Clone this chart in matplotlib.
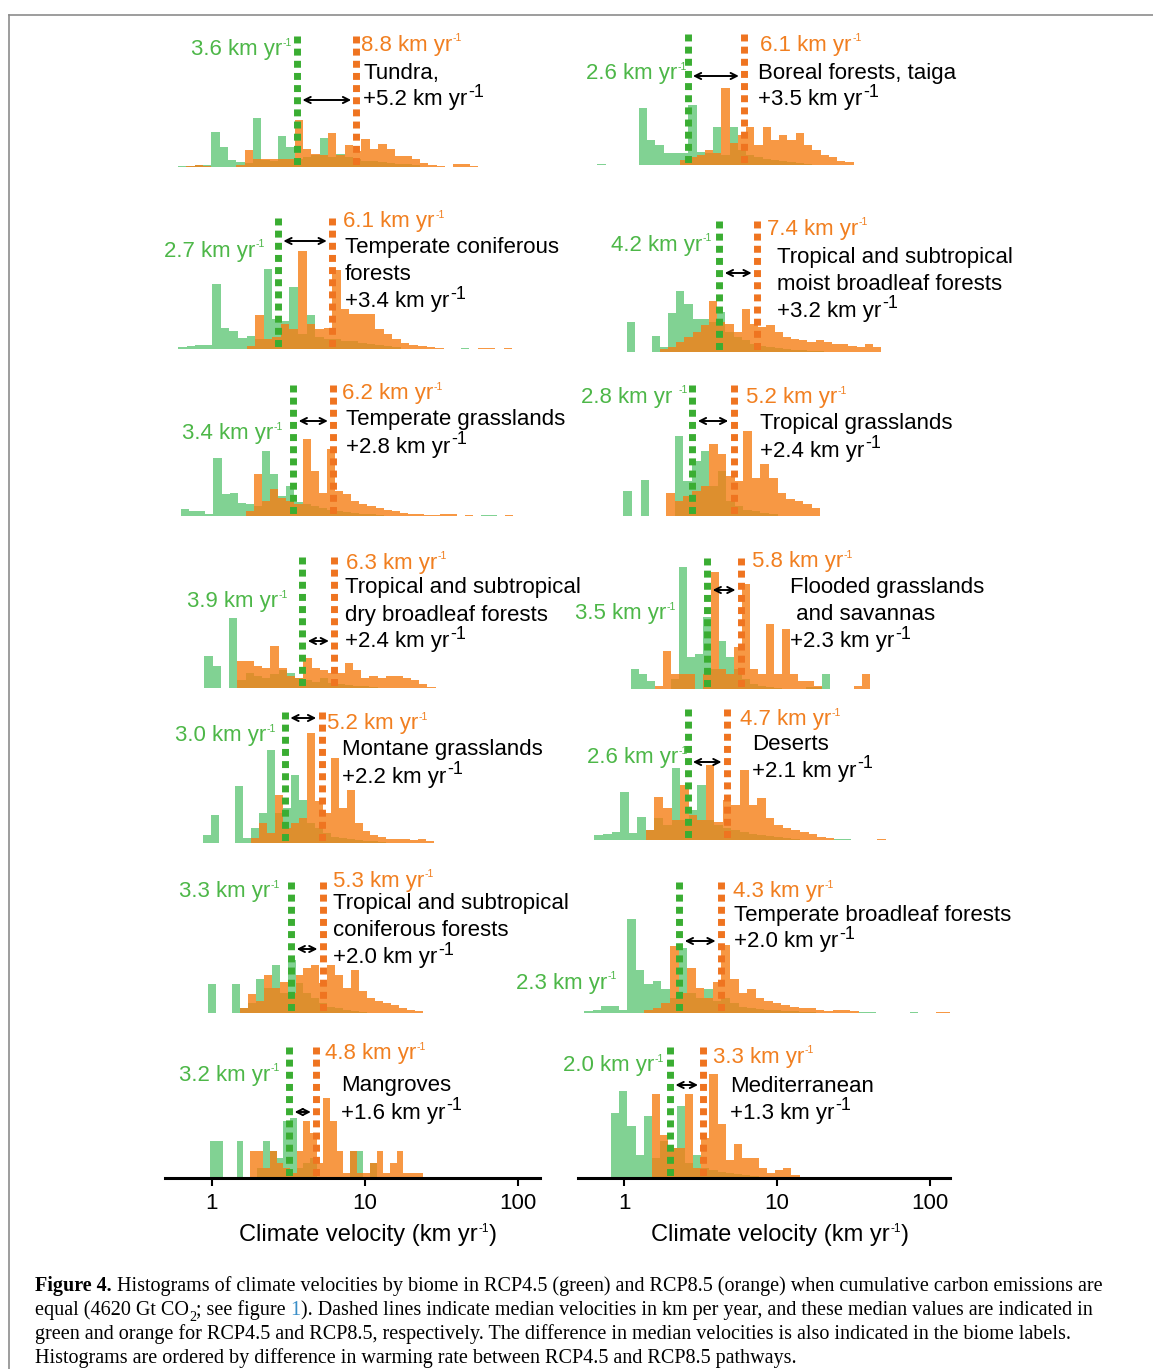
import numpy as np
import matplotlib.pyplot as plt
from matplotlib.ticker import NullLocator

plt.rcParams['font.family'] = ['Liberation Sans', 'DejaVu Sans']

W, H = 1153, 1369

# biomes: left column top to bottom, then right column top to bottom
NAMES = [
    ["Tundra,"],
    ["Temperate coniferous", "forests"],
    ["Temperate grasslands"],
    ["Tropical and subtropical", "dry broadleaf forests"],
    ["Montane grasslands"],
    ["Tropical and subtropical", "coniferous forests"],
    ["Mangroves"],
    ["Boreal forests, taiga"],
    ["Tropical and subtropical", "moist broadleaf forests"],
    ["Tropical grasslands"],
    ["Flooded grasslands", " and savannas"],
    ["Deserts"],
    ["Temperate broadleaf forests"],
    ["Mediterranean"],
]
MEDIAN_45 = [3.6, 2.7, 3.4, 3.9, 3.0, 3.3, 3.2, 2.6, 4.2, 2.8, 3.5, 2.6, 2.3, 2.0]
MEDIAN_85 = [8.8, 6.1, 6.2, 6.3, 5.2, 5.3, 4.8, 6.1, 7.4, 5.2, 5.8, 4.7, 4.3, 3.3]

# histogram bins: first edge (km/yr) and log10 width of each bin
BIN_START = [0.60, 0.60, 0.627, 0.89, 0.879, 0.942, 0.97,
             0.67, 1.046, 0.99, 1.11, 0.64, 0.55, 0.822]
BIN_DEX = [0.0545, 0.056, 0.053, 0.054, 0.052, 0.052, 0.0436,
           0.054, 0.0536, 0.056, 0.052, 0.056, 0.056, 0.0536]

TUNDRA_45 = [1, 1, 2, 2, 35, 20, 7, 5, 4, 49, 7, 6, 31, 20, 8, 10, 12, 29, 10, 13, 10, 8, 6, 6, 5, 4, 3, 3, 2]
TUNDRA_85 = [0, 1, 2, 1, 0, 0, 0, 2, 17, 8, 8, 8, 8, 8, 47, 18, 13, 12, 34, 12, 22, 16, 28, 18, 23, 18, 11, 11,
             8, 4, 2, 1, 0, 3, 3, 1]
TEMP_CONIF_45 = [2, 3, 4, 4, 65, 21, 18, 11, 13, 10, 80, 30, 28, 62, 15, 34, 12, 10, 10, 8, 8, 6, 5, 4, 3, 2,
                 0, 0, 0, 0, 0, 0, 0, 1]
TEMP_CONIF_85 = [0, 0, 0, 0, 0, 0, 0, 0, 3, 34, 10, 12, 25, 20, 98, 25, 20, 21, 79, 40, 35, 35, 35, 20, 15, 10,
                 6, 4, 3, 2, 1, 0, 0, 0, 0, 1, 1, 0, 1]
TEMP_GRASS_45 = [7, 5, 5, 2, 58, 22, 23, 13, 12, 10, 65, 42, 20, 30, 14, 12, 10, 8, 6, 5, 4, 3, 2, 2, 1,
                 0, 0, 0, 0, 0, 0, 0, 0, 0, 0, 0, 0, 1, 1]
TEMP_GRASS_85 = [0, 0, 0, 0, 0, 0, 0, 0, 5, 42, 15, 27, 18, 15, 12, 77, 45, 23, 67, 25, 22, 15, 12, 10, 8, 6,
                 5, 3, 2, 2, 1, 1, 2, 2, 0, 1, 0, 0, 0, 0, 1]
TROP_DRY_45 = [32, 22, 0, 70, 8, 15, 12, 10, 14, 18, 15, 10, 8, 6, 10, 5, 4, 3, 2, 2, 1]
TROP_DRY_85 = [0, 0, 0, 0, 27, 27, 22, 20, 42, 20, 12, 10, 30, 20, 18, 15, 15, 25, 18, 10, 12, 10, 12, 12,
               10, 8, 4, 1]
MONTANE_45 = [8, 28, 0, 0, 57, 5, 15, 30, 93, 30, 35, 68, 43, 20, 15, 10, 6, 5, 4, 3, 2, 2, 1]
MONTANE_85 = [0, 0, 0, 0, 0, 0, 5, 20, 10, 48, 15, 20, 25, 110, 42, 30, 85, 35, 53, 20, 12, 8, 6, 4, 4, 4,
              3, 4, 2]
TROP_CONIF_45 = [29, 0, 0, 29, 5, 10, 34, 25, 48, 20, 53, 30, 20, 15, 10, 6, 5, 3, 2, 1]
TROP_CONIF_85 = [0, 0, 0, 0, 5, 19, 12, 38, 25, 31, 20, 38, 45, 48, 30, 48, 38, 25, 43, 22, 15, 12, 10, 8, 5,
                 3, 2]
MANGROVE_45 = [37, 37, 0, 0, 37, 0, 0, 10, 37, 27, 20, 57, 60, 10, 15, 20, 0, 0, 0, 0, 0, 27, 27, 0, 15]
MANGROVE_85 = [0, 0, 0, 0, 0, 0, 27, 27, 10, 27, 15, 10, 5, 27, 57, 45, 15, 80, 57, 27, 5, 27, 5, 5, 15, 27,
               5, 15, 27, 5, 5, 5]
BOREAL_45 = [1, 0, 0, 0, 0, 57, 25, 20, 12, 12, 12, 60, 13, 12, 38, 10, 38, 15, 10, 8, 6, 5, 4, 3, 2, 1]
BOREAL_85 = [0, 0, 0, 0, 0, 0, 0, 0, 0, 0, 5, 8, 10, 15, 12, 77, 22, 30, 38, 20, 38, 25, 30, 25, 32, 20, 15,
             10, 8, 4, 3]
TROP_MOIST_45 = [30, 0, 0, 16, 5, 39, 61, 48, 33, 33, 30, 40, 20, 15, 12, 8, 6, 5, 4, 3, 2, 2, 1, 1]
TROP_MOIST_85 = [0, 0, 0, 0, 3, 5, 10, 15, 20, 27, 51, 30, 28, 20, 43, 28, 25, 27, 20, 15, 13, 12, 10, 12, 10,
                 8, 8, 6, 5, 8, 5]
TROP_GRASS_45 = [25, 0, 36, 0, 0, 0, 80, 35, 55, 65, 30, 45, 15, 10, 6, 5, 3, 2]
TROP_GRASS_85 = [0, 0, 0, 0, 0, 23, 15, 20, 25, 30, 72, 62, 40, 35, 85, 38, 52, 38, 23, 17, 15, 12, 8]
FLOODED_45 = [20, 15, 8, 0, 0, 10, 122, 32, 35, 72, 20, 48, 32, 20, 10, 5, 3, 2, 1, 0, 0, 0, 2, 2, 15]
FLOODED_85 = [0, 0, 0, 3, 38, 15, 15, 15, 0, 15, 117, 20, 15, 42, 105, 20, 15, 65, 15, 60, 15, 8, 8, 3,
              0, 0, 0, 0, 3, 15]
DESERTS_45 = [5, 6, 8, 48, 7, 23, 10, 22, 15, 72, 20, 30, 55, 20, 15, 12, 10, 8, 6, 5, 4, 3, 2, 1,
              0, 0, 0, 0, 1, 1]
DESERTS_85 = [0, 0, 0, 0, 0, 0, 10, 43, 32, 20, 55, 25, 20, 75, 18, 40, 35, 70, 35, 42, 22, 15, 12, 10, 8, 6,
              3, 2, 0, 0, 0, 0, 0, 1]
TEMP_BROAD_45 = [2, 3, 7, 7, 3, 94, 43, 29, 32, 24, 15, 65, 20, 15, 24, 12, 15, 10, 6, 5, 4, 3, 3, 2, 2, 1, 1,
                 0, 0, 0, 0, 0, 1, 1, 0, 0, 0, 0, 1]
TEMP_BROAD_85 = [0, 0, 0, 0, 0, 0, 0, 3, 5, 10, 67, 20, 45, 25, 15, 31, 68, 34, 20, 24, 15, 12, 10, 8, 6, 5, 5,
                 3, 2, 3, 3, 2, 0, 0, 0, 0, 0, 0, 0, 0, 0, 1, 1, 1]
MEDIT_45 = [65, 87, 52, 23, 62, 20, 37, 30, 72, 15, 23, 10, 8, 6, 5, 4, 3, 2, 1]
MEDIT_85 = [0, 0, 0, 0, 0, 84, 43, 30, 30, 84, 10, 40, 104, 54, 18, 34, 20, 20, 10, 5, 8, 10, 3]

COUNTS_45 = [TUNDRA_45, TEMP_CONIF_45, TEMP_GRASS_45, TROP_DRY_45, MONTANE_45, TROP_CONIF_45, MANGROVE_45,
             BOREAL_45, TROP_MOIST_45, TROP_GRASS_45, FLOODED_45, DESERTS_45, TEMP_BROAD_45, MEDIT_45]
COUNTS_85 = [TUNDRA_85, TEMP_CONIF_85, TEMP_GRASS_85, TROP_DRY_85, MONTANE_85, TROP_CONIF_85, MANGROVE_85,
             BOREAL_85, TROP_MOIST_85, TROP_GRASS_85, FLOODED_85, DESERTS_85, TEMP_BROAD_85, MEDIT_85]

XTICKS = [1, 10, 100]

# ---- layout (pixels) ----
BASELINES = [167, 349, 516, 688, 843, 1013, 1178, 165, 352, 516, 689, 840, 1013, 1178]
COL_SPAN = [(165, 540), (578, 950)]
XLIM = [(0.493, 139.3), (0.5, 135.0)]
PANEL_H = 150
DASH_TOP = 131
ARROW_Y = [67, 108, 95, 47, 125, 64, 66, 89, 79, 95, 99, 78, 72, 93]
G_LABEL = [(292, 50), (265, 251), (283, 434), (288, 602), (276, 736), (280, 892), (280, 1075),
           (687, 74), (712, 245), (688, 397), (676, 614), (688, 758), (617, 983), (664, 1066)]
O_LABEL = [(361, 45), (343, 222), (342, 394), (346, 563), (327, 724), (333, 881), (325, 1054),
           (760, 45), (767, 229), (746, 398), (752, 562), (740, 720), (733, 892), (713, 1057)]
NAME_POS = [(363, 73), (345, 248), (346, 420), (345, 588), (342, 750), (333, 904), (341, 1086),
            (758, 73), (777, 257), (760, 424), (790, 588), (752, 744), (734, 915), (730, 1086)]
LINE_STEP = 27

GREEN_BAR, ORANGE_BAR = '#3dbb5a', '#f57e15'
GREEN_LINE, ORANGE_LINE = '#3aad32', '#ef7420'
GREEN_TEXT, ORANGE_TEXT = '#4db748', '#f17f20'
FS = 16

fig = plt.figure(figsize=(W / 100, H / 100), dpi=100)

for k in range(14):
    col, row = divmod(k, 7)
    base = BASELINES[k]
    x0, x1 = COL_SPAN[col]
    ax = fig.add_axes([x0 / W, 1 - base / H, (x1 - x0) / W, PANEL_H / H])
    ax.set_xscale('log')
    ax.set_xlim(*XLIM[col])
    ax.set_ylim(0, PANEL_H)
    ax.patch.set_alpha(0)

    for counts, color, alpha in ((COUNTS_45[k], GREEN_BAR, 0.65), (COUNTS_85[k], ORANGE_BAR, 0.8)):
        edges = BIN_START[k] * 10 ** (BIN_DEX[k] * np.arange(len(counts) + 1))
        ax.bar(edges[:-1], counts, width=np.diff(edges), align='edge',
               color=color, alpha=alpha, linewidth=0)

    g, o = MEDIAN_45[k], MEDIAN_85[k]
    for m, c in ((g, GREEN_LINE), (o, ORANGE_LINE)):
        ax.plot([m, m], [DASH_TOP, 0], color=c, lw=5, dashes=(1.0, 0.75),
                dash_capstyle='butt', zorder=5)
    ax.annotate('', xy=(o / 10 ** 0.035, ARROW_Y[k]), xytext=(g * 10 ** 0.035, ARROW_Y[k]),
                arrowprops=dict(arrowstyle='<->', color='black', lw=1.4,
                                shrinkA=0, shrinkB=0, mutation_scale=11), zorder=6)

    if row == 6:
        for s in ('top', 'left', 'right'):
            ax.spines[s].set_visible(False)
        ax.spines['bottom'].set_linewidth(2.2)
        ax.set_xticks(XTICKS)
        ax.set_xticklabels([str(t) for t in XTICKS])
        ax.xaxis.set_minor_locator(NullLocator())
        ax.tick_params(axis='x', length=6, width=1.5, labelsize=FS, pad=5)
        ax.set_yticks([])
    else:
        ax.axis('off')

# overlay in pixel coordinates for labels, frame and caption
lab = fig.add_axes([0, 0, 1, 1], zorder=10)
lab.set_xlim(0, W)
lab.set_ylim(H, 0)
lab.axis('off')


def sup_after(parent, s, size, color, dy):
    return lab.annotate(s, xy=(1, 1), xycoords=parent, xytext=(0.5, dy),
                        textcoords='offset points', ha='left', va='top',
                        fontsize=size, color=color)


for k in range(14):
    g, o = MEDIAN_45[k], MEDIAN_85[k]
    gx, gy = G_LABEL[k]
    green_txt = f"{g:.1f} km yr " if k == 9 else f"{g:.1f} km yr"
    t = lab.text(gx - 10, gy, green_txt, color=GREEN_TEXT, fontsize=FS, ha='right', va='center')
    sup_after(t, '-1', 7.5, GREEN_TEXT, 1)

    ox, oy = O_LABEL[k]
    t = lab.text(ox, oy, f"{o:.1f} km yr", color=ORANGE_TEXT, fontsize=FS, ha='left', va='center')
    sup_after(t, '-1', 7.5, ORANGE_TEXT, 1)

    nx, ny = NAME_POS[k]
    for j, line in enumerate(NAMES[k]):
        lab.text(nx, ny + j * LINE_STEP, line, fontsize=FS, ha='left', va='center')
    vy = ny + len(NAMES[k]) * LINE_STEP
    t = lab.text(nx, vy, f"+{round(o - g, 1):.1f} km yr", fontsize=FS, ha='left', va='center')
    sup_after(t, '-1', 13, 'black', 4)

# x-axis titles, centred under each column (main text, small superscript, closing bracket)
renderer = fig.canvas.get_renderer()
for cx in (368, 780):
    parts = [lab.text(0, 1235, "Climate velocity (km yr", fontsize=17, ha='left', va='center')]
    parts.append(sup_after(parts[0], '-1', 8.5, 'black', 1))
    parts.append(lab.annotate(")", xy=(1, 0), xycoords=(parts[1], parts[0]), xytext=(0.5, 0),
                              textcoords='offset points', ha='left', va='bottom', fontsize=17))
    ext = [p.get_window_extent(renderer) for p in parts]
    total = ext[2].x1 - ext[0].x0
    parts[0].set_x(cx - total / 2)

# page frame
lab.plot([9, 9], [14.5, H], color='#8c8c8c', lw=1.2, clip_on=False)
lab.plot([9, W], [14.5, 14.5], color='#8c8c8c', lw=1.2, clip_on=False)

# caption
CAPTION = [
    [("Figure 4.", 'bold', 'black', 0),
     (" Histograms of climate velocities by biome in RCP4.5 (green) and RCP8.5 (orange) when "
      "cumulative carbon emissions are", 'normal', 'black', 0)],
    [("equal (4620 Gt CO", 'normal', 'black', 0), ("2", 'sub', 'black', -3),
     ("; see figure ", 'normal', 'black', 0), ("1", 'normal', '#3a8fc8', 0),
     ("). Dashed lines indicate median velocities in km per year, and these median values are "
      "indicated in", 'normal', 'black', 0)],
    [("green and orange for RCP4.5 and RCP8.5, respectively. The difference in median velocities "
      "is also indicated in the biome labels.", 'normal', 'black', 0)],
    [("Histograms are ordered by difference in warming rate between RCP4.5 and RCP8.5 pathways.",
      'normal', 'black', 0)],
]
CAP_FS = 14.5
for i, pieces in enumerate(CAPTION):
    y = 1296 + i * 24
    first = None
    prev = None
    for s, style, color, dy in pieces:
        kw = dict(family='Liberation Serif', color=color,
                  fontsize=CAP_FS * (0.7 if style == 'sub' else 1),
                  fontweight='bold' if style == 'bold' else 'normal')
        if prev is None:
            prev = first = lab.text(35, y, s, ha='left', va='bottom', **kw)
        else:
            prev = lab.annotate(s, xy=(1, 0), xycoords=(prev, first), xytext=(0, dy),
                                textcoords='offset points', ha='left', va='bottom', **kw)

fig.savefig('out.png', dpi=100)
